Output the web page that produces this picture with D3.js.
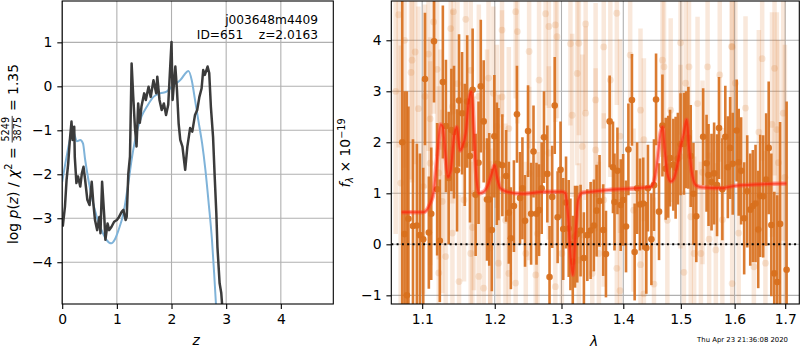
<!DOCTYPE html>
<html>
<head>
<meta charset="utf-8">
<script src="https://cdn.jsdelivr.net/npm/d3@7"></script>
<style>
  body { margin: 0; background: #fff; }
  svg { font-family: "DejaVu Sans", sans-serif; }
</style>
</head>
<body>
<div id="chart"></div>
<script>
// ---- data ----
// p(z) panel
var pzZ = [0.01,0.05,0.08,0.11,0.14,0.17,0.19,0.22,0.23,0.26,0.29,0.33,0.36,0.39,0.42,0.46,0.50,0.54,0.57,0.60,
  0.64,0.68,0.70,0.73,0.77,0.79,0.83,0.86,0.90,0.95,1.00,1.04,1.09,1.12,1.16,1.18,1.21,1.24,1.27,1.30,
  1.33,1.36,1.39,1.42,1.45,1.50,1.53,1.58,1.62,1.67,1.72,1.74,1.78,1.82,1.86,1.90,1.94,1.97,2.00,2.02,
  2.07,2.10,2.13,2.16,2.20,2.25,2.29,2.34,2.38,2.43,2.47,2.51,2.55,2.58,2.61,2.66,2.69,2.72,2.76,2.79,
  2.82,2.84,2.88,2.91,2.94]
var pzLog = [-3.19,-2.74,-2.13,-1.75,-1.22,-0.80,-1.22,-0.92,-1.60,-2.20,-2.05,-2.28,-1.98,-1.83,-2.13,-2.58,-2.70,-2.17,-2.66,-3.04,
  -3.27,-2.97,-3.34,-2.17,-2.97,-3.49,-3.12,-3.27,-3.20,-3.08,-3.04,-2.97,-2.85,-2.81,-3.04,-2.97,-1.98,-1.60,0.52,-0.24,
  -0.92,-1.37,-0.39,-0.83,-0.46,-0.16,-0.31,-0.01,-0.24,0.14,-0.16,0.22,-0.31,-0.54,-0.39,-0.65,-0.42,0.30,1.01,-0.31,
  0.45,-0.09,-0.84,-1.22,-1.37,-1.90,-1.37,-0.95,-1.03,-0.65,-0.54,-0.24,-0.05,0.37,0.26,0.45,0.30,-0.46,-1.15,-2.05,
  -2.89,-3.65,-4.48,-4.70,-5.20]
var priorZ = [0.00,0.08,0.14,0.20,0.27,0.33,0.38,0.42,0.48,0.54,0.63,0.72,0.81,0.90,0.96,1.03,1.12,1.21,1.27,1.36,
  1.45,1.55,1.67,1.79,1.91,2.04,2.16,2.28,2.31,2.37,2.43,2.49,2.56,2.62,2.68,2.74,2.78,2.82]
var priorLog = [-2.17,-1.60,-1.22,-1.03,-1.25,-1.22,-1.30,-1.67,-2.13,-2.51,-2.96,-3.27,-3.49,-3.57,-3.49,-3.27,-2.89,-2.20,-1.67,-1.07,
  -0.69,-0.46,-0.24,-0.16,-0.12,0.03,0.14,0.33,0.35,0.14,-0.31,-0.77,-1.30,-1.90,-2.66,-3.49,-4.25,-5.10]
var zTicks = [0,1,2,3,4]
var logTicks = [-4,-3,-2,-1,0,1]

// spectrum panel: binned points
var specLam = [1.074,1.077,1.080,1.082,1.0879,1.093,1.097,1.1014,1.1037,1.1088,
  1.112,1.1157,1.1199,1.1235,1.1276,1.1318,1.1355,1.1392,1.1428,1.1469,
  1.1497,1.1539,1.1576,1.161,1.1649,1.1686,1.1728,1.1769,1.1801,1.1842,
  1.1889,1.1921,1.1958,1.1994,1.203,1.2054,1.211,1.2165,1.2204,1.2234,
  1.2279,1.2324,1.2369,1.2405,1.2444,1.2489,1.2535,1.2571,1.2616,1.2655,
  1.2695,1.273,1.2781,1.2815,1.2856,1.2895,1.294,1.2985,1.3027,1.3071,
  1.3113,1.314,1.3177,1.3213,1.3248,1.3301,1.3354,1.3409,1.3462,1.3515,
  1.3559,1.3607,1.3667,1.3712,1.3773,1.3828,1.3853,1.3902,1.3957,1.3998,
  1.4046,1.4086,1.4146,1.4192,1.4234,1.4283,1.4339,1.4392,1.442,1.448,
  1.4525,1.4561,1.4613,1.4673,1.4731,1.4775,1.4807,1.4866,1.4907,1.4947,
  1.4995,1.5056,1.5096,1.5137,1.5179,1.5229,1.5281,1.5407,1.547,1.5507,
  1.5563,1.5611,1.5666,1.5703,1.5766,1.5822,1.587,1.5914,1.5963,1.6039,
  1.6078,1.6125,1.6184,1.6243,1.6302,1.6353,1.6406,1.6459,1.6498,1.6557,
  1.6616,1.6667,1.672,1.6779,1.6838,1.6896,1.7029]
var specFlux = [2.0,0.2,-1.0,0.5,0.36,0.37,0.18,0.1,3.24,0.23,
  0.6,3.98,1.08,0.07,3.18,2.32,1.3,2.24,2.2,1.45,
  2.82,2.57,1.95,2.8,1.73,3.03,0.97,1.6,3.1,2.41,
  0.88,0.88,0.28,2.12,1.58,1.57,1.55,1.34,0.62,0.12,
  0.75,2.55,0.91,1.1,0.46,2.22,0.6,1.82,0.6,0.67,
  1.1,2.1,1.38,-0.64,0.93,2.72,0.53,1.46,0.3,0.82,
  0.31,0.0,-0.34,0.15,0.2,0.27,-0.27,0.18,0.27,0.37,
  0.66,0.85,0.28,-0.19,2.41,1.51,0.83,1.44,0.77,0.87,
  0.35,1.86,2.83,-0.15,1.1,0.78,0.8,-0.07,1.1,0.1,
  1.16,2.84,0.64,2.33,1.48,1.52,1.69,1.56,1.5,1.68,
  1.96,1.97,2.05,2.09,1.73,0.99,0.55,2.11,1.59,1.36,
  1.22,1.39,1.16,2.28,1.08,2.11,1.51,1.89,1.58,2.23,
  1.61,1.44,0.51,1.04,0.68,0.75,0.8,0.29,0.95,0.94,
  1.27,1.89,0.38,-0.57,-0.74,0.4,-0.5]
var specErr = [3.6,2.8,4.0,2.2,1.7,1.6,1.6,1.4,1.3,1.1,
  1.3,1.2,1.3,1.2,1.5,1.3,1.3,1.2,1.3,1.2,
  1.3,1.2,1.2,1.3,1.3,1.2,1.2,1.2,1.3,1.2,
  1.2,1.3,1.2,1.2,1.2,1.1,1.0,0.9,1.0,1.0,
  0.9,0.95,0.9,1.0,0.9,0.9,1.0,0.9,1.0,0.9,
  0.9,0.9,0.95,1.0,1.0,0.95,0.9,0.95,1.0,0.9,
  0.95,0.9,0.9,1.0,0.95,0.9,0.9,0.9,0.95,0.9,
  0.9,0.9,0.9,0.85,0.9,0.9,0.95,0.85,0.9,0.9,
  0.9,0.9,0.9,0.95,0.9,0.9,0.9,0.9,0.85,0.9,
  0.9,0.9,0.95,1.0,1.0,1.0,0.95,0.9,1.0,0.9,
  1.0,1.0,0.95,1.0,1.0,1.0,0.9,0.95,0.95,1.0,
  0.95,1.0,1.0,1.0,1.0,1.0,1.0,1.0,1.0,1.0,
  1.05,1.05,1.1,1.1,1.1,1.1,1.15,1.15,1.2,1.2,
  1.3,1.3,1.4,1.6,1.7,2.0,3.3]

// spectrum panel: faint unbinned pixels
var bgLam = [1.1152,1.142,1.1383,1.159,1.0908,1.0867,1.0854,1.1083,1.1199,1.095,1.1037,1.1106,1.1244,1.1221,1.1268,1.1314,1.1221,1.1497,1.1773,1.1842,
  1.1682,1.1935,1.1889,1.203,1.1911,1.1659,1.1406,1.1475,1.1773,1.198,1.1566,1.1704,1.1106,1.1014,1.1406,1.1659,1.1935,1.0694,1.0656,1.077,1.072,
  1.2305,1.2755,1.2805,1.2905,1.2105,1.233,1.293,1.2505,1.3382,1.3274,1.314,1.2655,1.2105,1.2204,1.3248,1.3382,1.3543,1.3167,1.2054,1.2505,
  1.3543,1.3328,1.2805,1.2155,1.2631,1.2455,1.2054,1.2305,1.2905,1.2204,1.3489,1.2605,1.3006,1.3274,1.3596,
  1.3892,1.3676,1.4116,1.4673,1.4701,1.5148,1.5087,1.3784,1.4292,1.4819,1.5304,1.3945,1.435,1.4995,1.3676,1.4174,1.476,1.5179,1.3892,1.4292,
  1.3945,1.4525,1.5056,1.5241,1.435,
  1.5952,1.6537,1.6784,1.5489,1.5717,1.6014,1.621,1.6733,1.6831,1.6471,1.6961,1.5396,1.6994,1.6863,1.5518,1.5766,1.6078,1.5952,1.6373,1.6602,
  1.5365,1.5643,1.4995,1.5942]
var bgFlux = [4.36,4.56,4.23,4.41,3.77,3.61,3.37,3.73,3.43,2.66,2.9,2.46,1.92,1.4,0.84,-0.24,-0.56,-0.73,-0.63,-0.86,
  0.33,-0.07,1.92,2.31,3.26,3.41,2.7,3.15,2.9,2.96,0.87,1.0,1.59,1.13,0.22,-0.18,0.28,4.5,3.0,4.0,1.2,
  4.56,4.52,4.27,4.3,4.2,4.17,4.07,3.78,4.32,3.94,3.93,3.22,2.89,2.27,3.35,2.57,2.83,2.53,1.13,1.39,
  1.85,1.92,1.79,0.47,0.21,-0.18,-0.37,-0.76,-0.83,-0.57,-0.57,-0.6,-0.18,-0.31,-0.18,
  4.53,3.87,3.71,3.61,3.48,3.48,3.16,3.22,2.63,2.63,2.76,2.12,2.05,1.72,0.87,0.67,0.47,0.54,-0.47,-0.4,
  -0.91,-0.78,-0.55,-0.18,-0.97,
  3.87,3.64,3.45,3.48,3.32,3.16,2.67,2.35,2.25,2.2,2.57,1.41,1.31,1.6,0.1,0.48,0.22,-0.77,-0.44,-0.37,
  -0.18,-0.11,3.95,3.88]
var bgErr = [1.8,2.0,1.7,1.9,2.2,2.4,2.1,1.9,1.7,2.0,1.8,1.6,1.9,1.7,1.8,1.6,1.5,1.7,1.6,1.8,
  1.5,1.7,1.9,1.6,1.8,1.7,1.9,1.6,1.8,1.7,1.6,1.9,2.0,2.1,1.7,1.8,1.6,2.6,2.8,2.5,2.7,
  1.7,1.8,1.6,1.9,1.7,1.8,1.6,1.9,1.7,1.8,1.6,1.9,1.7,1.6,1.8,1.7,1.9,1.6,1.8,1.7,
  1.6,1.8,1.7,1.9,1.6,1.8,1.7,1.6,1.9,1.7,1.8,1.6,1.7,1.9,1.8,
  1.8,1.6,1.7,1.9,1.6,1.8,1.7,1.9,1.6,1.8,1.7,1.9,1.6,1.8,1.7,1.6,1.8,1.7,1.9,1.6,
  1.8,1.7,1.6,1.9,1.7,
  1.9,2.0,2.1,1.8,1.7,1.9,1.8,2.2,2.3,2.0,2.5,1.8,2.6,2.4,1.7,1.8,1.9,2.0,2.1,2.2,
  1.8,1.7,1.8,1.9]

// best-fit model
var modelLam = [1.0732,1.1014,1.1106,1.1152,1.1199,1.1244,1.1276,1.1314,1.1345,1.1383,1.1428,1.1465,1.1511,1.1544,1.159,1.1635,1.1669,1.1704,1.1742,1.1773,
  1.1843,1.19,1.196,1.1997,1.2035,1.208,1.2155,1.2405,1.2755,1.3006,1.306,1.3103,1.314,1.3177,1.322,1.3264,1.3328,1.3543,1.3704,1.4467,
  1.4525,1.4585,1.4643,1.4678,1.4713,1.476,1.4819,1.4877,1.4937,1.4995,1.5056,1.5106,1.5148,1.5193,1.5272,1.5365,1.5767,1.6014,1.7027]
var modelFlux = [0.63,0.63,0.8,1.03,1.69,2.35,2.29,1.69,1.32,1.46,2.11,2.3,1.84,1.92,2.18,2.83,2.99,2.18,1.26,1.0,
  1.03,1.15,1.4,1.55,1.3,1.1,1.04,0.99,1.03,1.03,1.0,0.55,-0.18,-0.6,0.21,0.87,1.01,1.04,1.06,1.13,
  1.23,1.65,2.2,2.3,1.84,1.39,1.23,1.29,1.55,1.91,2.18,2.44,1.91,1.45,1.16,1.12,1.1,1.15,1.19]
var lamTicks = [1.1,1.2,1.3,1.4,1.5,1.6,1.7]
var fluxTicks = [-1,0,1,2,3,4]

// ---- layout ----
var W = 800, H = 350
var fs = 13.9
var orange = '#d8701e'

var svg = d3.select('#chart').append('svg')
  .attr('width', W).attr('height', H)

var left = { x0: 62.2, x1: 333.3, y0: 1, y1: 304 }
var right = { x0: 391.3, x1: 799.3, y0: 1, y1: 304 }

var xZ = d3.scaleLinear().domain([0, 4.96]).range([left.x0, left.x1])
var yP = d3.scaleLinear().domain([-4.95, 1.94]).range([left.y1, left.y0])
var xL = d3.scaleLog().domain([1.06, 1.729]).range([right.x0, right.x1])
var yF = d3.scaleLinear().domain([-1.17, 4.77]).range([right.y1, right.y0])

var defs = svg.append('defs')
defs.append('clipPath').attr('id', 'clipL').append('rect')
  .attr('x', left.x0).attr('y', left.y0).attr('width', left.x1 - left.x0).attr('height', left.y1 - left.y0)
defs.append('clipPath').attr('id', 'clipR').append('rect')
  .attr('x', right.x0).attr('y', right.y0).attr('width', right.x1 - right.x0).attr('height', right.y1 - right.y0)

function grid(g, xs, xt, ys, yt, box) {
  g.selectAll('.gx').data(xt).enter().append('line')
    .attr('x1', d => xs(d)).attr('x2', d => xs(d))
    .attr('y1', box.y0).attr('y2', box.y1)
    .attr('stroke', '#b0b0b0').attr('stroke-width', 1.1)
  g.selectAll('.gy').data(yt).enter().append('line')
    .attr('x1', box.x0).attr('x2', box.x1)
    .attr('y1', d => ys(d)).attr('y2', d => ys(d))
    .attr('stroke', '#b0b0b0').attr('stroke-width', 1.1)
}

function axes(xs, xt, xfmt, ys, yt, box) {
  var ax = svg.append('g').attr('transform', 'translate(0,' + box.y1 + ')')
    .call(d3.axisBottom(xs).tickValues(xt).tickFormat(xfmt).tickSize(4.9).tickPadding(4.9))
  var ay = svg.append('g').attr('transform', 'translate(' + box.x0 + ',0)')
    .call(d3.axisLeft(ys).tickValues(yt).tickFormat(d => d < 0 ? '\u2212' + Math.abs(d) : d).tickSize(4.9).tickPadding(4.9))
  ;[ax, ay].forEach(function (a) {
    a.select('.domain').remove()
    a.selectAll('text').attr('font-size', fs).attr('fill', '#000')
      .attr('font-family', '"DejaVu Sans", sans-serif')
    a.selectAll('line').attr('stroke', '#000').attr('stroke-width', 1.1)
  })
  svg.append('rect').attr('x', box.x0).attr('y', box.y0)
    .attr('width', box.x1 - box.x0).attr('height', box.y1 - box.y0)
    .attr('fill', 'none').attr('stroke', '#000').attr('stroke-width', 1.1)
}

// ---- left panel: p(z) ----
var gl = svg.append('g')
grid(gl, xZ, zTicks, yP, logTicks, left)
var plot = gl.append('g').attr('clip-path', 'url(#clipL)')

var priorLine = d3.line().x((d, i) => xZ(priorZ[i])).y(d => yP(d)).curve(d3.curveMonotoneX)
plot.append('path').datum(priorLog)
  .attr('d', priorLine).attr('fill', 'none')
  .attr('stroke', '#7fb3d9').attr('stroke-width', 2)

var pzLine = d3.line().x((d, i) => xZ(pzZ[i])).y(d => yP(d))
plot.append('path').datum(pzLog)
  .attr('d', pzLine).attr('fill', 'none')
  .attr('stroke', '#3b3b3b').attr('stroke-width', 2.5).attr('stroke-linejoin', 'round')

axes(xZ, zTicks, d3.format('d'), yP, logTicks, left)

svg.append('text').attr('x', 318).attr('y', 24).attr('text-anchor', 'end')
  .attr('font-size', 12.2).text('j003648m4409')
svg.append('text').attr('x', 318).attr('y', 39).attr('text-anchor', 'end')
  .attr('font-size', 12.2).style('white-space', 'pre')
  .text('ID=651    z=2.0163')

svg.append('text').attr('x', xZ(2.45)).attr('y', 345).attr('text-anchor', 'middle')
  .attr('font-size', fs).attr('font-style', 'italic').text('z')

// left y label with fraction
var yl = svg.append('g')
var t1 = yl.append('text').attr('font-size', fs)
t1.append('tspan').text('log ')
t1.append('tspan').attr('font-style', 'italic').text('p')
t1.append('tspan').text('(')
t1.append('tspan').attr('font-style', 'italic').text('z')
t1.append('tspan').text(') / ')
t1.append('tspan').attr('font-style', 'italic').text('\u03c7')
t1.append('tspan').attr('font-size', 9.7).attr('dy', -5.5).text('2')
t1.append('tspan').attr('dy', 5.5).style('white-space', 'pre').text(' = ')
var w1 = t1.node().getComputedTextLength()
var num = yl.append('text').attr('font-size', 9.7).attr('text-anchor', 'middle').attr('y', -8.5).text('5249')
var den = yl.append('text').attr('font-size', 9.7).attr('text-anchor', 'middle').attr('y', 3.5).text('3875')
var fw = Math.max(num.node().getComputedTextLength(), den.node().getComputedTextLength())
num.attr('x', w1 + 1.5 + fw / 2)
den.attr('x', w1 + 1.5 + fw / 2)
yl.append('line').attr('x1', w1 + 0.5).attr('x2', w1 + fw + 2.5)
  .attr('y1', -5.3).attr('y2', -5.3).attr('stroke', '#000').attr('stroke-width', 0.8)
var t3 = yl.append('text').attr('font-size', fs).attr('x', w1 + fw + 3)
  .style('white-space', 'pre').text(' = 1.35')
var wl = w1 + fw + 3 + t3.node().getComputedTextLength()
yl.attr('transform', 'translate(17.5,' + (154 + wl / 2) + ') rotate(-90)')

// ---- right panel: spectrum ----
var gr = svg.append('g')
grid(gr, xL, lamTicks, yF, fluxTicks, right)
var sp = gr.append('g').attr('clip-path', 'url(#clipR)')

var bg = bgLam.map((l, i) => ({ l: l, f: bgFlux[i], e: bgErr[i] }))
sp.selectAll('.bgbar').data(bg).enter().append('line')
  .attr('x1', d => xL(d.l)).attr('x2', d => xL(d.l))
  .attr('y1', d => yF(d.f + d.e)).attr('y2', d => yF(d.f - d.e))
  .attr('stroke', orange).attr('stroke-opacity', 0.16).attr('stroke-width', 4.5)
sp.selectAll('.bgdot').data(bg).enter().append('circle')
  .attr('cx', d => xL(d.l)).attr('cy', d => yF(d.f)).attr('r', 3.4)
  .attr('fill', orange).attr('fill-opacity', 0.17)

var pts = specLam.map((l, i) => ({ l: l, f: specFlux[i], e: specErr[i] }))
sp.selectAll('.bar').data(pts).enter().append('line')
  .attr('x1', d => xL(d.l)).attr('x2', d => xL(d.l))
  .attr('y1', d => yF(d.f + d.e)).attr('y2', d => yF(d.f - d.e))
  .attr('stroke', orange).attr('stroke-opacity', 0.92).attr('stroke-width', 2.6)
sp.selectAll('.dot').data(pts).enter().append('circle')
  .attr('cx', d => xL(d.l)).attr('cy', d => yF(d.f)).attr('r', 3.3)
  .attr('fill', orange).attr('fill-opacity', 0.95)

var modelLine = d3.line().x((d, i) => xL(modelLam[i])).y(d => yF(d)).curve(d3.curveMonotoneX)
sp.append('path').datum(modelFlux).attr('d', modelLine).attr('fill', 'none')
  .attr('stroke', '#ff3b2a').attr('stroke-opacity', 0.45).attr('stroke-width', 4.5)
sp.append('path').datum(modelFlux).attr('d', modelLine).attr('fill', 'none')
  .attr('stroke', '#ff1a00').attr('stroke-opacity', 0.55).attr('stroke-width', 2)

sp.append('line').attr('x1', right.x0).attr('x2', right.x1)
  .attr('y1', yF(0)).attr('y2', yF(0))
  .attr('stroke', '#000').attr('stroke-width', 2).attr('stroke-dasharray', '2,3.3')

axes(xL, lamTicks, d3.format('.1f'), yF, fluxTicks, right)

svg.append('text').attr('x', 594).attr('y', 346).attr('text-anchor', 'middle')
  .attr('font-size', fs).attr('font-style', 'italic').text('\u03bb')

var yr = svg.append('text').attr('font-size', fs)
yr.append('tspan').attr('font-style', 'italic').text('f')
yr.append('tspan').attr('font-style', 'italic').attr('font-size', 9.7).attr('dy', 3).text('\u03bb')
yr.append('tspan').attr('dy', -3).style('white-space', 'pre').text(' \u00d7 10')
yr.append('tspan').attr('font-size', 9.7).attr('dy', -5.5).text('\u221219')
var wr = yr.node().getComputedTextLength()
yr.attr('transform', 'translate(350,' + (153 + wr / 2) + ') rotate(-90)')

svg.append('text').attr('x', 788).attr('y', 342).attr('text-anchor', 'end')
  .attr('font-size', 6.9).text('Thu Apr 23 21:36:08 2020')
</script>
</body>
</html>
